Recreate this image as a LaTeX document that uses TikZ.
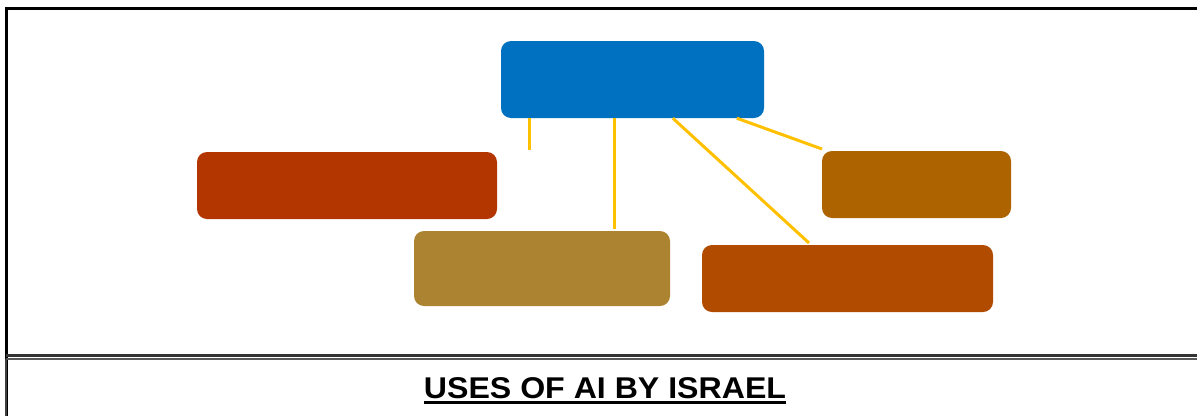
\documentclass[tikz,border=0pt]{standalone}
\usepackage{fontspec}
\setmainfont{Liberation Sans}
\usetikzlibrary{calc}
\definecolor{cblue}{HTML}{0070C0}
\definecolor{cred}{HTML}{B33500}
\definecolor{colive}{HTML}{AC8431}
\definecolor{crust}{HTML}{B04B00}
\definecolor{camber}{HTML}{AD6400}
\definecolor{cyel}{HTML}{FFC000}
\tikzset{
  box/.style={rounded corners=10pt, inner sep=0pt, draw=none},
  link/.style={draw=cyel, line width=3pt},
  frame/.style={line width=3pt, draw=black}
}
\begin{document}
\begin{tikzpicture}[x=1pt,y=-1pt]
\useasboundingbox (0,0) rectangle (1197,416);
% frame
\draw[frame] (6,416) -- (6,8) -- (1197,8);
\draw[line width=2.4pt, draw=black!80] (6,355.5) -- (1197,355.5);
\draw[line width=2pt, draw=black!65] (6,358.5) -- (1197,358.5);
\draw[line width=2.4pt, draw=black!75] (6,359) -- (6,416);
% boxes
\fill[box, cblue] (501,41) rectangle (764,118);
\node[inner sep=0pt, minimum width=263pt, minimum height=77pt] (top) at (632.5,79.5) {};
\fill[box, cred] (197,152) rectangle (497,219);
\node[inner sep=0pt, minimum width=300pt, minimum height=67pt] (left) at (347,185.5) {};
\fill[box, colive] (414,231) rectangle (670,306);
\node[inner sep=0pt, minimum width=256pt, minimum height=75pt] (mid) at (542,268.5) {};
\fill[box, crust] (702,245) rectangle (993,312);
\node[inner sep=0pt, minimum width=291pt, minimum height=67pt] (rb) at (847.5,278.5) {};
\fill[box, camber] (822,151) rectangle (1011,218);
\node[inner sep=0pt, minimum width=189pt, minimum height=67pt] (rs) at (916.5,184.5) {};
% connectors
\coordinate (e1) at (529,150);
\coordinate (e2) at (614,229);
\coordinate (e3) at (809,243);
\coordinate (e4) at (822,149);
\draw[link] (top.south west -| e1) -- (e1);
\draw[link] (top.south west -| e2) -- (e2);
\draw[link] ($(top.south west)+(172,0)$) -- (e3);
\draw[link] ($(top.south west)+(236,0)$) -- (e4);
% title
\node[anchor=base, inner sep=0pt, xscale=1.07, font=\fontsize{30}{35}\selectfont\bfseries] (title) at (605,398) {USES OF AI BY ISRAEL};
\draw[line width=2.5pt] ($(title.base west)+(0,4.5)$) -- ($(title.base east)+(0,4.5)$);
\end{tikzpicture}
\end{document}
